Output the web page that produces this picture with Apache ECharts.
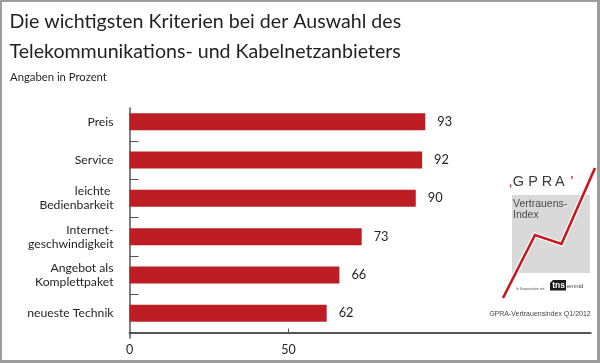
<!DOCTYPE html>
<html><head><meta charset="utf-8">
<script src="https://cdn.jsdelivr.net/npm/echarts@6/dist/echarts.min.js"></script>
<style>
html,body{margin:0;padding:0;background:#fff;}
#c{position:absolute;left:0;top:0;width:600px;height:363px;}
#f{position:absolute;left:0;top:0;width:600px;height:363px;box-sizing:border-box;border-style:solid;border-color:#9d9d9d;border-width:2px 3px 3px 2px;pointer-events:none;}
</style></head><body><div id="c"></div><div id="f"></div>
<script>
const categories = ['Preis', 'Service', 'leichte \nBedienbarkeit', 'Internet-\ngeschwindigkeit', 'Angebot als\nKomplettpaket', 'neueste Technik'];
const values = [93, 92, 90, 73, 66, 62];
const xTickLabels = [0, 50];
const xTicks = [50];
const titleText = 'Die wichtigsten Kriterien bei der Auswahl des\nTelekommunikations- und Kabelnetzanbieters';
const subtitleText = 'Angaben in Prozent';
const sourceText = 'GPRA-Vertrauensindex Q1/2012';

const FONT = 'Lato';
const LOGOFONT = 'Liberation Sans';
const TXT = '#231f20';
const AX = '#555';
const RED = '#bd1e24';

const chart = echarts.init(document.getElementById('c'), null, {renderer: 'canvas'});

const letters = [['G', 512.7], ['P', 528.3], ['R', 541.7], ['A', 555]];
const graphics = [
  {type: 'rect', shape: {x: 512, y: 195, width: 78, height: 78}, style: {fill: '#d9d9d9'}, z: 1},
  {type: 'text', x: 508.5, y: 182, style: {text: ',', fill: '#c8161d', font: '15px ' + LOGOFONT, verticalAlign: 'middle', align: 'left'}, z: 2},
  {type: 'text', x: 570.5, y: 182, style: {text: "'", fill: '#c8161d', font: '15px ' + LOGOFONT, verticalAlign: 'middle', align: 'left'}, z: 2}
];
letters.forEach(function (l) {
  graphics.push({type: 'text', x: l[1], y: 182, style: {text: l[0], fill: '#3c3c3c', font: '14.5px ' + LOGOFONT, verticalAlign: 'middle', align: 'left'}, z: 2});
});
graphics.push(
  {type: 'text', x: 513, y: 199, style: {text: 'Vertrauens-\nIndex', fill: '#4a4a4a', font: '10.5px ' + LOGOFONT, lineHeight: 10.7, verticalAlign: 'top', align: 'left'}, z: 2},
  {type: 'polyline', shape: {points: [[503, 298], [535, 235], [561.5, 244], [595, 168]]}, style: {stroke: '#fff', lineWidth: 5, fill: null, lineJoin: 'miter'}, z: 3},
  {type: 'polyline', shape: {points: [[503, 298], [535, 235], [561.5, 244], [595, 168]]}, style: {stroke: '#c8161d', lineWidth: 2.6, fill: null, lineJoin: 'miter'}, z: 4},
  {type: 'polygon', shape: {points: [[553, 280], [566, 280], [566, 290.5], [550, 290.5], [550, 283]]}, style: {fill: '#1a1a1a'}, z: 2},
  {type: 'text', x: 558.5, y: 286, style: {text: 'tns', fill: '#fff', font: 'bold 8.5px ' + LOGOFONT, verticalAlign: 'middle', align: 'center'}, z: 3},
  {type: 'text', x: 567, y: 286, style: {text: 'emnid', fill: '#444', font: '6px ' + LOGOFONT, verticalAlign: 'middle', align: 'left'}, z: 3},
  {type: 'text', x: 516, y: 289, style: {text: 'In Kooperation mit', fill: '#555', font: '3.5px ' + LOGOFONT, verticalAlign: 'middle', align: 'left'}, z: 3},
  {type: 'text', x: 590.7, y: 314, style: {text: sourceText, fill: '#444', font: '7px ' + LOGOFONT, verticalAlign: 'middle', align: 'right'}, z: 3}
);

chart.setOption({
  animation: false,
  backgroundColor: '#fff',
  title: [
    {text: titleText, left: 9.5, top: 6, padding: 0, textStyle: {fontFamily: FONT, fontSize: 19.6, fontWeight: 'normal', color: TXT, lineHeight: 30.5}},
    {text: subtitleText, left: 10, top: 70.5, padding: 0, textStyle: {fontFamily: FONT, fontSize: 11.3, fontWeight: 'normal', color: TXT, lineHeight: 13}}
  ],
  grid: [
    {left: 129.5, right: 9.3, top: 102.7, height: 229.6, containLabel: false},
    {left: 129.5, right: 9.3, top: 108, height: 230, containLabel: false}
  ],
  xAxis: [
    {gridIndex: 0, type: 'value', min: 0, max: 145, show: false},
    {gridIndex: 1, type: 'value', min: 0, max: 145,
      axisLine: {show: true, lineStyle: {color: AX, width: 2}},
      axisTick: {show: true, inside: true, length: 4, customValues: xTicks, lineStyle: {color: AX, width: 1}},
      axisLabel: {show: true, customValues: xTickLabels, margin: 5, fontFamily: FONT, fontSize: 12.5, color: TXT},
      splitLine: {show: false}}
  ],
  yAxis: [
    {gridIndex: 0, type: 'category', inverse: true, data: categories,
      axisLine: {show: false}, axisTick: {show: false},
      axisLabel: {margin: 16, fontFamily: FONT, fontSize: 12.2, lineHeight: 14, color: TXT, align: 'right'}},
    {gridIndex: 1, type: 'value', min: -0.1436, max: 5.862,
      axisLine: {show: true, lineStyle: {color: AX, width: 1.5}},
      axisTick: {show: true, inside: true, length: 9, customValues: [1, 2, 3, 4, 5], lineStyle: {color: AX, width: 1}},
      axisLabel: {show: false}, splitLine: {show: false}}
  ],
  series: [{
    type: 'bar', xAxisIndex: 0, yAxisIndex: 0, data: values, barWidth: 17,
    itemStyle: {color: RED},
    label: {show: true, position: 'right', distance: 12, fontFamily: FONT, fontSize: 12.8, color: TXT}
  }],
  graphic: graphics
});
</script></body></html>
